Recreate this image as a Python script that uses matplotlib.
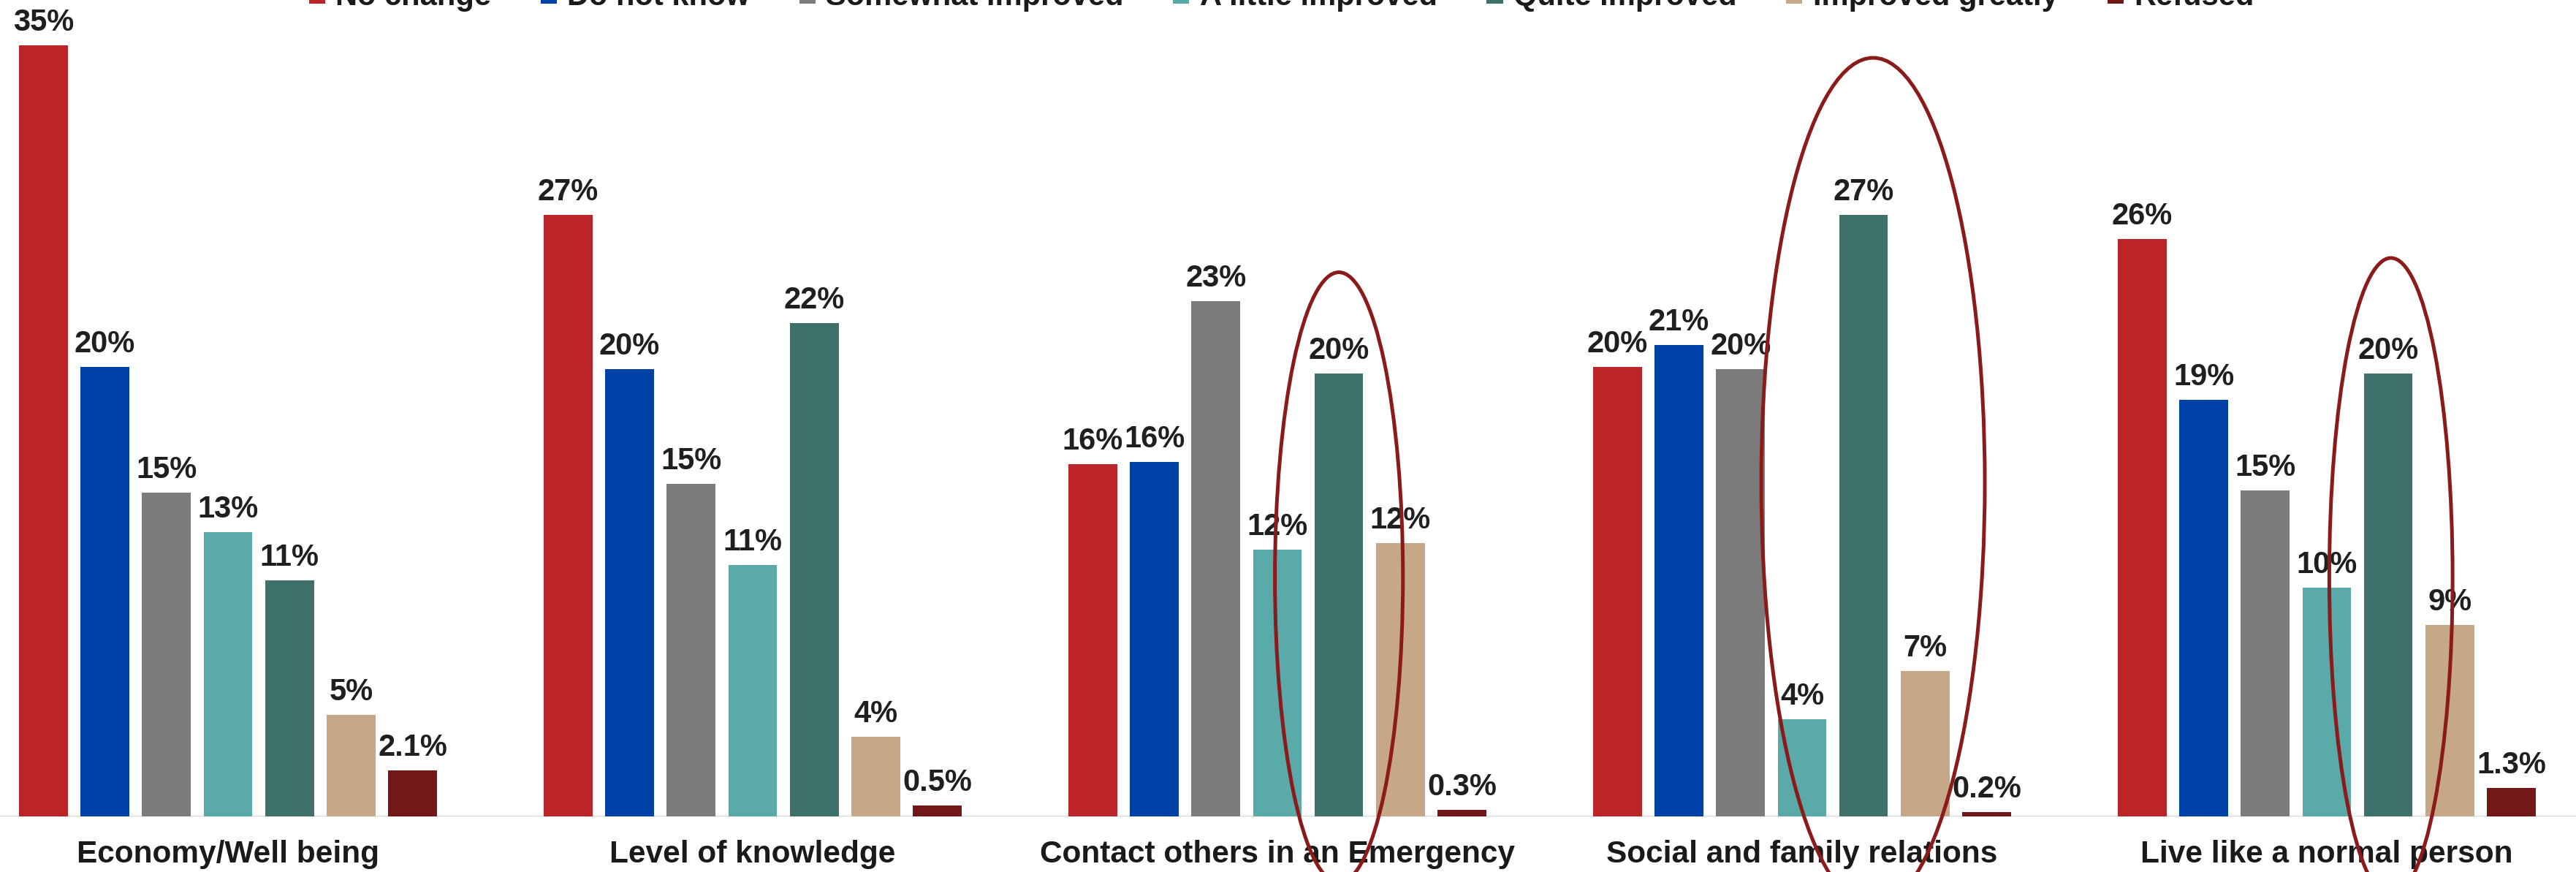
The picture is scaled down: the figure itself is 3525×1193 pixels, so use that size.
import matplotlib
matplotlib.use('Agg')
import matplotlib.pyplot as plt
from matplotlib.patches import Ellipse, Patch
import numpy as np

plt.rcParams['font.family'] = ['Liberation Sans', 'DejaVu Sans']

# ---------------- data ----------------
categories = ['Economy/Well being', 'Level of knowledge',
              'Contact others in an Emergency', 'Social and family relations',
              'Live like a normal person']
series_names = ['No change', 'Do not know', 'Somewhat improved', 'A little improved',
                'Quite improved', 'Improved greatly', 'Refused']

no_change = [35.0, 27.3, 16.0, 20.4, 26.2]
do_not_know = [20.4, 20.3, 16.1, 21.4, 18.9]
somewhat_improved = [14.7, 15.1, 23.4, 20.3, 14.8]
a_little_improved = [12.9, 11.4, 12.1, 4.4, 10.4]
quite_improved = [10.7, 22.4, 20.1, 27.3, 20.1]
improved_greatly = [4.6, 3.6, 12.4, 6.6, 8.7]
refused = [2.1, 0.5, 0.3, 0.2, 1.3]

series_values = [no_change, do_not_know, somewhat_improved, a_little_improved,
                 quite_improved, improved_greatly, refused]
colors = ['#BB2528', '#0041A8', '#7B7B7B', '#5AAAAA', '#3D7169', '#C6A787', '#731819']

# categories whose "Quite improved" bar is circled
highlighted_categories = [2, 3, 4]

# ---------------- figure ----------------
W, H = 3525, 1193
fig = plt.figure(figsize=(W / 100, H / 100), dpi=100)
base_px = 1117
ax = fig.add_axes([0, (H - base_px) / H, 1, base_px / H])

pitch = 0.1173
bar_w = 0.0928
x = np.arange(len(categories))
n = len(series_names)

for i, (vals, col) in enumerate(zip(series_values, colors)):
    xs = x + (i - (n - 1) / 2) * pitch
    bars = ax.bar(xs, vals, width=bar_w, color=col, zorder=3)
    for b, v in zip(bars, vals):
        lab = f'{v:.1f}%' if v < 3 else f'{v:.0f}%'
        ax.annotate(lab, (b.get_x() + b.get_width() / 2, v),
                    xytext=(0, 14.4), textcoords='offset points',
                    ha='center', va='baseline', fontsize=30, fontweight='bold',
                    color='#1F1F1F', zorder=5)

ax.set_xlim(-0.4345, 4.475)
ax.set_ylim(0, 37.06)
ax.axhline(0, color='#D0D0D0', lw=1.8, zorder=2)
ax.set_xticks([])
ax.set_yticks([])
for s in ax.spines.values():
    s.set_visible(False)

for xi, cat in zip(x, categories):
    ax.annotate(cat, (xi, 0), xytext=(0, -45.4), textcoords='offset points',
                ha='center', va='baseline', fontsize=30.5, fontweight='bold',
                color='#1A1A1A', annotation_clip=False)

# hand-drawn style highlight ellipses around "Quite improved" bars
qi = series_names.index('Quite improved')
ell_specs = {2: (0.0, 0.244, 10.85, 27.7),
             3: (0.018, 0.426, 15.16, 38.55),
             4: (0.005, 0.235, 10.85, 29.0)}
for c in highlighted_categories:
    dx, w, yc, h = ell_specs[c]
    cx = x[c] + (qi - (n - 1) / 2) * pitch + dx
    e = Ellipse((cx, yc), width=w, height=h, fill=False, edgecolor='#8B1A1A',
                lw=3.6, zorder=10, clip_on=False)
    ax.add_patch(e)

handles = [Patch(facecolor=c, edgecolor='none', label=s) for s, c in zip(series_names, colors)]
fig.legend(handles=handles, loc='center', bbox_to_anchor=(0.4975, 1 + 3.8 / H),
           ncol=7, frameon=False, prop={'size': 30, 'weight': 'bold'},
           handlelength=0.53, handleheight=0.53, handletextpad=0.34,
           columnspacing=1.63, borderpad=0, labelcolor='#1A1A1A')

fig.savefig('out.png', dpi=100)
